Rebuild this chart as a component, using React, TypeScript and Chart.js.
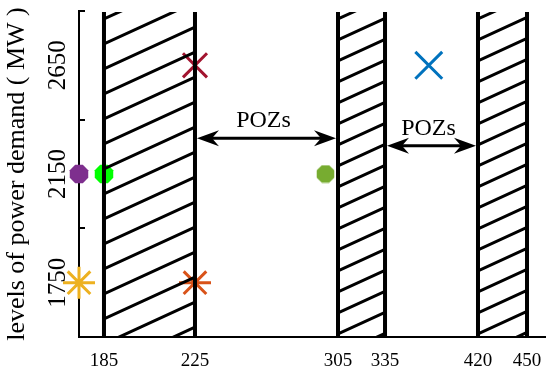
import React, { useEffect, useRef } from 'react';
import { Chart, registerables, LinearScale } from 'chart.js';

Chart.register(...registerables);

// ---- data ----
const xTicks = [185, 225, 305, 335, 420, 450];
const yLabels = ['2650', '2150', '1750'];
const bandStarts = [185, 305, 420];
const bandEnds = [225, 335, 450];

const purplePts = [{ x: 175, y: '2150' }];
const greenPts = [{ x: 185, y: '2150' }];
const olivePts = [{ x: 298, y: '2150' }];
const yellowPts = [{ x: 175, y: '1750' }];
const orangePts = [{ x: 225, y: '1750' }];
const redPts = [{ x: 225, y: '2650' }];
const bluePts = [{ x: 375, y: '2650' }];

const arrowFrom = [225, 335];
const arrowTo = [305, 420];
const arrowLevel = [0.67, 0.74]; // position on the category axis (between 2650 and 2150)
const arrowText = ['POZs', 'POZs'];

// ---- layout (schematic, non-linear x axis) ----
const warpValues = [175, 185, 225, 305, 335, 420, 450, 460];
const warpFracs = [0, 0.0536, 0.2489, 0.5558, 0.6567, 0.8562, 0.9614, 1];
const hatchGap = [25, 21, 21];
const FONT = '"Liberation Serif", "Times New Roman", serif';

function interp(v: number, xs: number[], ys: number[]) {
  if (v <= xs[0]) return ys[0] + ((v - xs[0]) * (ys[1] - ys[0])) / (xs[1] - xs[0]);
  for (let i = 1; i < xs.length; i++) {
    if (v <= xs[i]) return ys[i - 1] + ((v - xs[i - 1]) * (ys[i] - ys[i - 1])) / (xs[i] - xs[i - 1]);
  }
  const n = xs.length - 1;
  return ys[n] + ((v - xs[n]) * (ys[n] - ys[n - 1])) / (xs[n] - xs[n - 1]);
}

class WarpScale extends LinearScale {
  static id = 'warp';
  static defaults = (LinearScale as any).defaults;
  getPixelForValue(value: number) {
    return this.getPixelForDecimal(interp(value, warpValues, warpFracs));
  }
  getValueForPixel(pixel: number) {
    return interp(this.getDecimalForPixel(pixel), warpFracs, warpValues);
  }
}
Chart.register(WarpScale as any);

function zeroPadding(s: any) {
  s.paddingLeft = 0;
  s.paddingRight = 0;
  s.paddingTop = 0;
  s.paddingBottom = 0;
}

function octagon(color: string, d: number) {
  const c = document.createElement('canvas');
  c.width = d;
  c.height = d;
  const g = c.getContext('2d') as CanvasRenderingContext2D;
  const r = d / 2;
  g.fillStyle = color;
  g.beginPath();
  for (let k = 0; k < 8; k++) {
    const a = Math.PI / 8 + (k * Math.PI) / 4;
    const px = r + r * Math.cos(a);
    const py = r + r * Math.sin(a);
    if (k === 0) g.moveTo(px, py);
    else g.lineTo(px, py);
  }
  g.closePath();
  g.fill();
  return c;
}

function arrowHead(ctx: CanvasRenderingContext2D, tipX: number, y: number, dir: number) {
  const L = 22, H = 8, N = 15;
  ctx.beginPath();
  ctx.moveTo(tipX, y);
  ctx.lineTo(tipX - dir * L, y - H);
  ctx.lineTo(tipX - dir * N, y);
  ctx.lineTo(tipX - dir * L, y + H);
  ctx.closePath();
  ctx.fill();
}

const overlay = {
  id: 'overlay',
  afterDatasetsDraw(chart: any) {
    const { ctx, chartArea, scales } = chart;
    const { top, bottom } = chartArea;
    const xs = scales.x;
    const ys = scales.y;
    ctx.save();
    ctx.strokeStyle = '#000';
    ctx.fillStyle = '#000';
    bandStarts.forEach((s, i) => {
      const x1 = xs.getPixelForValue(s);
      const x2 = xs.getPixelForValue(bandEnds[i]);
      const w = x2 - x1;
      const rise = w * 0.46;
      const gap = hatchGap[i];
      ctx.save();
      ctx.beginPath();
      ctx.rect(x1, top + 1, w, bottom - top - 1);
      ctx.clip();
      ctx.lineWidth = 3;
      ctx.beginPath();
      for (let c = top + 8; c < bottom + rise + gap; c += gap) {
        ctx.moveTo(x1, c);
        ctx.lineTo(x2, c - rise);
      }
      ctx.stroke();
      ctx.restore();
      ctx.lineWidth = 4;
      ctx.beginPath();
      ctx.moveTo(x1, top + 1);
      ctx.lineTo(x1, bottom);
      ctx.moveTo(x2, top + 1);
      ctx.lineTo(x2, bottom);
      ctx.stroke();
    });
    arrowFrom.forEach((a, i) => {
      const xa = xs.getPixelForValue(a) + 2;
      const xb = xs.getPixelForValue(arrowTo[i]) - 2;
      const y = ys.getPixelForValue(arrowLevel[i]);
      ctx.lineWidth = 3;
      ctx.beginPath();
      ctx.moveTo(xa + 10, y);
      ctx.lineTo(xb - 10, y);
      ctx.stroke();
      arrowHead(ctx, xa, y, -1);
      arrowHead(ctx, xb, y, 1);
      ctx.font = '24px ' + FONT;
      ctx.textAlign = 'center';
      ctx.textBaseline = 'alphabetic';
      ctx.fillText(arrowText[i], (xa + xb) / 2 - 3, y - 11);
    });
    ctx.restore();
  },
};

export default function App() {
  const ref = useRef<HTMLCanvasElement>(null);
  useEffect(() => {
    Chart.defaults.font.family = FONT;
    Chart.defaults.color = '#000';
    const mk = (data: any[], style: any, color: string, r: number, filled: boolean) => ({
      data,
      pointStyle: style,
      pointRadius: r,
      pointHoverRadius: r,
      borderColor: color,
      backgroundColor: color,
      borderWidth: filled ? 0 : 3,
      showLine: false,
      clip: false,
    });
    const chart = new Chart(ref.current as HTMLCanvasElement, {
      type: 'scatter',
      data: {
        datasets: [
          mk(purplePts, octagon('#7E2F8E', 20), '#7E2F8E', 10, true),
          mk(greenPts, octagon('#00FF00', 20), '#00FF00', 10, true),
          mk(olivePts, octagon('#77AC30', 19), '#77AC30', 9, true),
          mk(yellowPts, 'star', '#EDB120', 16, false),
          mk(orangePts, 'star', '#D95319', 16, false),
          mk(redPts, 'crossRot', '#A2142F', 17, false),
          mk(bluePts, 'crossRot', '#0072BD', 19, false),
        ] as any,
      },
      options: {
        responsive: false,
        animation: false,
        events: [],
        layout: { autoPadding: false, padding: { top: 11, right: 5, left: 0, bottom: 0 } },
        plugins: { legend: { display: false }, tooltip: { enabled: false } },
        scales: {
          x: {
            type: 'warp' as any,
            position: 'bottom',
            min: 175,
            max: 460,
            afterBuildTicks: (s: any) => {
              s.ticks = xTicks.map((v) => ({ value: v }));
            },
            afterFit: (s: any) => {
              s.height = 36;
              zeroPadding(s);
            },
            grid: { display: false },
            border: { display: true, color: '#000', width: 2 },
            ticks: {
              autoSkip: false,
              minRotation: 0,
              maxRotation: 0,
              padding: 5,
              color: '#000',
              font: { size: 19, family: FONT },
              callback: (v: any) => String(v),
            },
          } as any,
          y: {
            type: 'category',
            labels: yLabels,
            position: 'left',
            offset: true,
            afterFit: (s: any) => {
              s.width = 79;
              zeroPadding(s);
            },
            grid: {
              offset: true,
              drawOnChartArea: false,
              drawTicks: true,
              tickLength: -6,
              color: '#000',
              lineWidth: 2,
            },
            border: { display: true, color: '#000', width: 2 },
            ticks: {
              autoSkip: false,
              minRotation: 90,
              maxRotation: 90,
              crossAlign: 'center',
              padding: 2,
              color: '#000',
              font: { size: 25, family: FONT },
            },
            title: {
              display: true,
              text: 'levels of power demand ( MW )',
              color: '#000',
              font: { size: 26, family: FONT },
              padding: { top: 2, bottom: 0 },
            },
          } as any,
        },
      },
      plugins: [overlay],
    });
    return () => chart.destroy();
  }, []);
  return (
    <div style={{ position: 'fixed', left: 0, top: 0, width: 550, height: 373, background: '#fff' }}>
      <canvas ref={ref} width={550} height={373} style={{ display: 'block', width: 550, height: 373 }} />
    </div>
  );
}
